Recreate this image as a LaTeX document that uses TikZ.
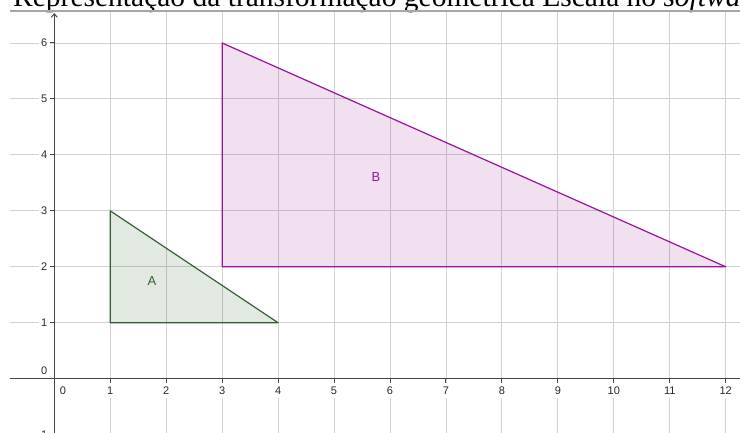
\documentclass[tikz,border=0pt]{standalone}
\usepackage{fontspec}
\setmainfont{Liberation Serif}
\setsansfont{Liberation Sans}
\usetikzlibrary{arrows.meta}
\definecolor{gridc}{RGB}{210,210,210}
\definecolor{axisc}{RGB}{70,70,70}
\definecolor{labc}{RGB}{40,40,40}
\definecolor{agreenfill}{RGB}{20,70,10}
\definecolor{agreen}{RGB}{50,95,50}
\definecolor{bpurplefill}{RGB}{128,0,128}
\definecolor{bpurple}{RGB}{153,20,153}
\begin{document}
\begin{tikzpicture}[x=1pt,y=1pt,
  gridline/.style={draw=gridc,line width=0.9pt},
  axisline/.style={draw=axisc,line width=1.3pt},
  tickmark/.style={draw=axisc,line width=1pt},
  ylab/.style={font=\sffamily\fontsize{11}{11}\selectfont,text=labc,fill=white,inner xsep=2.5pt,inner ysep=1pt,anchor=east},
  xlab/.style={font=\sffamily\fontsize{11}{11}\selectfont,text=labc,fill=white,inner xsep=2pt,inner ysep=3.5pt,anchor=north},
  polyA/.style={draw=agreen,line width=1.2pt,fill=agreenfill,fill opacity=0.12,line join=round},
  polyB/.style={draw=bpurple,line width=1.2pt,fill=bpurplefill,fill opacity=0.12,line join=round},
  polylab/.style={font=\sffamily\fontsize{13}{13}\selectfont}]
\useasboundingbox (0,0) rectangle (740,432);
\clip (0,0) rectangle (740,432);
% title
\node[anchor=base west,inner sep=0pt,font=\fontsize{29.5}{30}\selectfont] (title) at (13,425)
  {Representação da transformação geométrica Escala no \textit{software}};
\coordinate (topL) at (10,421);
\coordinate (topR) at (740,421);
\draw[draw=gray!70,line width=1.5pt] (topL) -- (topR);
\begin{scope}[shift={(54.3,53.3)},x=55.95pt,y=55.95pt]
  % grid
  \foreach \i in {1,...,12} \draw[gridline] (\i,-1) -- (\i,6.55);
  \foreach \j in {1,...,6} \draw[gridline] (-0.792,\j) -- (12.3,\j);
  % polygons
  \coordinate (A1) at (1,1); \coordinate (A2) at (1,3); \coordinate (A3) at (4,1);
  \coordinate (B1) at (3,2); \coordinate (B2) at (3,6); \coordinate (B3) at (12,2);
  \draw[polyA] (A1) -- (A2) -- (A3) -- cycle;
  \draw[polyB] (B1) -- (B2) -- (B3) -- cycle;
  \node[polylab,text=agreen] (labA) at (1.746,1.746) {A};
  \node[polylab,text=bpurple] (labB) at (5.75,3.605) {B};
  % axis labels
  \foreach \i in {1,...,12} \node[xlab] (x\i) at (\i,-0.077) {\i};
  \node[xlab] (x0) at (0.155,-0.077) {0};
  \foreach \j in {1,...,6} \node[ylab] (y\j) at (-0.077,\j) {\j};
  \node[ylab] (y0) at (-0.077,0.138) {0};
  \node[ylab] (ym1) at (-0.077,-1) {−1};
  % axes
  \coordinate (xl) at (-0.792,0); \coordinate (xr) at (12.3,0);
  \coordinate (yb) at (0,-1); \coordinate (yt) at (0,6.535);
  \draw[axisline] (xl) -- (xr);
  \draw[axisline,-{Straight Barb[length=3.5pt,width=6pt,line width=1pt]}] (yb) -- (yt);
  \foreach \i in {1,...,12} \draw[tickmark] (\i,0) -- (\i,-0.068);
  \foreach \j in {1,...,6} \draw[tickmark] (0,\j) -- (-0.068,\j);
\end{scope}
\end{tikzpicture}
\end{document}
